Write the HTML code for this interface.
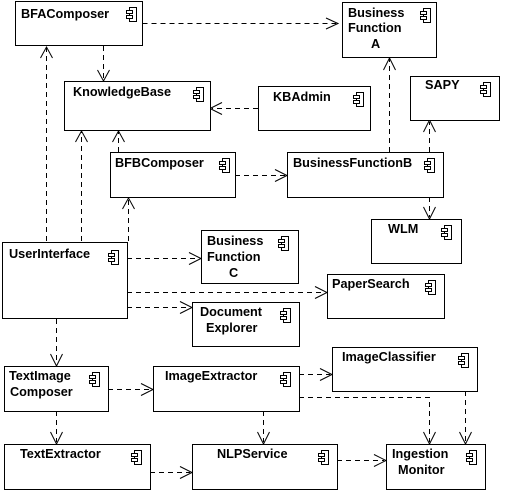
<!DOCTYPE html>
<html><head><meta charset="utf-8"><style>
html,body{margin:0;padding:0;background:#fff;}
svg{display:block;}
text{font-family:"Liberation Sans",sans-serif;font-weight:bold;font-size:12.7px;fill:#000;}
</style></head><body>
<svg width="505" height="494" viewBox="0 0 505 494" xmlns="http://www.w3.org/2000/svg">
<defs>
<g id="ic">
<rect x="0" y="0" width="7" height="14" fill="#fff" stroke="#000" stroke-width="1"/>
<rect x="-3" y="3" width="6" height="3" fill="#fff" stroke="#000" stroke-width="1"/>
<rect x="-3" y="8" width="6" height="3" fill="#fff" stroke="#000" stroke-width="1"/>
</g>
</defs>
<g fill="none" stroke="#000" stroke-width="1" stroke-dasharray="5,4">
<path d="M142.5 23.5H336"/>
<path d="M103.5 46V80"/>
<path d="M258 108.5H212"/>
<path d="M118.5 152V132"/>
<path d="M235 175.5H285"/>
<path d="M389.5 152V59"/>
<path d="M429.5 152V122"/>
<path d="M429.5 197V217"/>
<path d="M46.5 241V48"/>
<path d="M81.5 241V132"/>
<path d="M128.5 241V199"/>
<path d="M127 258.5H199"/>
<path d="M127 292.5H325"/>
<path d="M127 307.5H190"/>
<path d="M56.5 319V364"/>
<path d="M108 389.5H151"/>
<path d="M56.5 411V442"/>
<path d="M299 374.5H330"/>
<path d="M299 397.5H429.5V442"/>
<path d="M465.5 391V442"/>
<path d="M263.5 411V442"/>
<path d="M150 472.5H190"/>
<path d="M337 460.5H384"/>
</g>
<g fill="none" stroke="#000" stroke-width="1">
<path d="M326 18L338 23.5L326 29"/>
<path d="M97.5 70L103.5 81L109.5 70"/>
<path d="M222 102.5L210 108.5L222 114.5"/>
<path d="M112.5 142L118.5 131L124.5 142"/>
<path d="M275 169.5L287 175.5L275 181.5"/>
<path d="M383.5 70L389.5 58L395.5 70"/>
<path d="M423.5 132L429.5 120L435.5 132"/>
<path d="M423.5 207L429.5 219L435.5 207"/>
<path d="M40.5 58L46.5 47L52.5 58"/>
<path d="M75.5 142L81.5 131L87.5 142"/>
<path d="M122.5 209L128.5 198L134.5 209"/>
<path d="M189 252.5L201 258.5L189 264.5"/>
<path d="M315 286.5L327 292.5L315 298.5"/>
<path d="M180 301.5L192 307.5L180 313.5"/>
<path d="M50.5 354L56.5 366L62.5 354"/>
<path d="M141 383.5L153 389.5L141 395.5"/>
<path d="M50.5 432L56.5 444L62.5 432"/>
<path d="M320 368.5L332 374.5L320 380.5"/>
<path d="M423.5 432L429.5 444L435.5 432"/>
<path d="M459.5 432L465.5 444L471.5 432"/>
<path d="M257.5 432L263.5 444L269.5 432"/>
<path d="M180 466.5L192 472.5L180 478.5"/>
<path d="M374 454.5L386 460.5L374 466.5"/>
</g>
<g fill="#fff" stroke="#000" stroke-width="1">
<rect x="15.5" y="1.5" width="127" height="44"/>
<rect x="342.5" y="2.5" width="94" height="55"/>
<rect x="64.5" y="81.5" width="146" height="49"/>
<rect x="258.5" y="86.5" width="112" height="44"/>
<rect x="410.5" y="76.5" width="89" height="44"/>
<rect x="110.5" y="152.5" width="125" height="45"/>
<rect x="287.5" y="152.5" width="156" height="45"/>
<rect x="371.5" y="219.5" width="90" height="44"/>
<rect x="2.5" y="242.5" width="125" height="76"/>
<rect x="201.5" y="230.5" width="97" height="53"/>
<rect x="327.5" y="274.5" width="117" height="44"/>
<rect x="192.5" y="302.5" width="107" height="44"/>
<rect x="332.5" y="347.5" width="145" height="44"/>
<rect x="4.5" y="366.5" width="104" height="45"/>
<rect x="153.5" y="366.5" width="146" height="45"/>
<rect x="4.5" y="444.5" width="146" height="45"/>
<rect x="192.5" y="444.5" width="145" height="45"/>
<rect x="386.5" y="444.5" width="99" height="45"/>
</g>
<use href="#ic" x="129.5" y="7.5"/>
<use href="#ic" x="423.5" y="8.5"/>
<use href="#ic" x="196.5" y="87.5"/>
<use href="#ic" x="356.5" y="92.5"/>
<use href="#ic" x="483.5" y="82.5"/>
<use href="#ic" x="222.5" y="158.5"/>
<use href="#ic" x="427.5" y="158.5"/>
<use href="#ic" x="444.5" y="225.5"/>
<use href="#ic" x="111.5" y="250.5"/>
<use href="#ic" x="281.5" y="236.5"/>
<use href="#ic" x="428.5" y="280.5"/>
<use href="#ic" x="283.5" y="308.5"/>
<use href="#ic" x="461.5" y="353.5"/>
<use href="#ic" x="92.5" y="372.5"/>
<use href="#ic" x="283.5" y="372.5"/>
<use href="#ic" x="134.5" y="450.5"/>
<use href="#ic" x="321.5" y="450.5"/>
<use href="#ic" x="469.5" y="450.5"/>
<text x="21" y="18">BFAComposer</text>
<text x="348" y="17">Business</text>
<text x="348" y="32">Function</text>
<text x="371" y="48">A</text>
<text x="73" y="96">KnowledgeBase</text>
<text x="273" y="101">KBAdmin</text>
<text x="425" y="89">SAPY</text>
<text x="115" y="167">BFBComposer</text>
<text x="293" y="167">BusinessFunctionB</text>
<text x="388" y="233">WLM</text>
<text x="9" y="258">UserInterface</text>
<text x="207" y="245">Business</text>
<text x="207" y="261">Function</text>
<text x="229" y="277">C</text>
<text x="332" y="288">PaperSearch</text>
<text x="200" y="316">Document</text>
<text x="206" y="332">Explorer</text>
<text x="342" y="361">ImageClassifier</text>
<text x="9" y="380">TextImage</text>
<text x="10" y="396">Composer</text>
<text x="165" y="380">ImageExtractor</text>
<text x="20" y="458">TextExtractor</text>
<text x="217" y="458">NLPService</text>
<text x="392" y="458">Ingestion</text>
<text x="398" y="474">Monitor</text>
</svg>
</body></html>
